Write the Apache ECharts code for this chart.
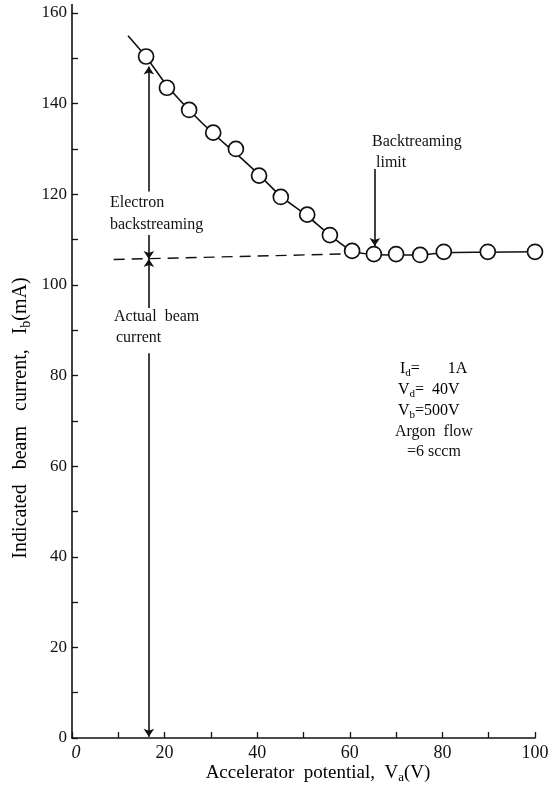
<!DOCTYPE html>
<html><head><meta charset="utf-8">
<script src="https://cdn.jsdelivr.net/npm/echarts@6/dist/echarts.min.js"></script>
<style>html,body{margin:0;padding:0;background:#fff}#c{width:556px;height:793px}</style>
</head><body><div id="c"></div>
<script>
// measured points
const potential = [16.0, 20.5, 25.3, 30.5, 35.4, 40.4, 45.1, 50.8, 55.7, 60.5, 65.2, 70.0, 75.2, 80.3, 89.8, 100.0];
const beamCurrent = [150.4, 143.5, 138.6, 133.6, 130.0, 124.1, 119.4, 115.5, 111.0, 107.5, 106.8, 106.8, 106.6, 107.3, 107.3, 107.3];
// drawn trend curve
const fitX = [12.1, 16.0, 20.5, 25.3, 30.5, 35.4, 40.4, 45.1, 50.8, 55.7, 60.5, 65.2, 70.0, 75.2, 80.3, 89.8, 100.0];
const fitY = [155.0, 150.3, 144.0, 138.6, 133.4, 129.0, 124.3, 119.6, 115.2, 111.0, 107.5, 106.7, 106.6, 106.6, 107.1, 107.2, 107.3];
// actual beam current (dashed)
const dashX = [9.0, 62.0];
const dashY = [105.6, 106.9];
// annotation arrows [x1,y1,x2,y2] (arrow at 2nd point)
const arrowX = 16.6;
const arrows = [
  [arrowX, 120.6, arrowX, 148.2],
  [arrowX, 111.0, arrowX, 105.7],
  [arrowX, 94.9, arrowX, 105.7],
  [arrowX, 84.9, arrowX, 0.3],
  [65.4, 125.6, 65.4, 108.6]
];
const xTicks = [0, 20, 40, 60, 80, 100];
const yTicks = [0, 20, 40, 60, 80, 100, 120, 140, 160];

const F = '"Liberation Serif", "DejaVu Serif", serif';
const chart = echarts.init(document.getElementById('c'), null, {renderer: 'canvas'});

const txt = (x, y, text) => ({
  type: 'text', x: x, y: y,
  style: {text: text, font: '16px ' + F, fill: '#111', verticalAlign: 'middle'}
});

const sub = {
  a: {fontFamily: F, fontSize: 16, color: '#111'},
  s: {fontFamily: F, fontSize: 11, color: '#111', verticalAlign: 'bottom', padding: [9, 0, 0, 0]}
};
const subBig = {
  a: {fontFamily: F, fontSize: 19, color: '#111'},
  s: {fontFamily: F, fontSize: 13, color: '#111', verticalAlign: 'bottom', padding: [10, 0, 0, 0]}
};
const subY = {
  a: {fontFamily: F, fontSize: 20, color: '#111'},
  s: {fontFamily: F, fontSize: 14, color: '#111', verticalAlign: 'bottom', padding: [10, 0, 0, 0]}
};

chart.setOption({
  animation: false,
  backgroundColor: '#fff',
  grid: {left: 72, right: 21, top: 13, bottom: 55, containLabel: false},
  xAxis: {
    type: 'value', min: 0, max: 100, interval: 20,
    axisLine: {onZero: false, lineStyle: {color: '#111', width: 1.6}},
    axisTick: {inside: true, length: 6, lineStyle: {color: '#111', width: 1.3}},
    minorTick: {show: true, splitNumber: 2, length: 6, lineStyle: {color: '#111', width: 1.3}},
    splitLine: {show: false},
    axisLabel: {fontFamily: F, fontSize: 18, color: '#111', margin: 6,
      formatter: v => v === 0 ? '{i|0}' : (xTicks.includes(v) ? String(v) : ''),
      rich: {i: {fontFamily: F, fontSize: 18, fontStyle: 'italic', color: '#111', padding: [0, 0, 0, 8]}}}
  },
  yAxis: {
    type: 'value', min: 0, max: 160, interval: 20,
    axisLine: {onZero: false, lineStyle: {color: '#111', width: 1.6}},
    axisTick: {inside: true, length: 6, lineStyle: {color: '#111', width: 1.3}},
    minorTick: {show: true, splitNumber: 2, length: 6, lineStyle: {color: '#111', width: 1.3}},
    splitLine: {show: false},
    axisLabel: {fontFamily: F, fontSize: 17, color: '#111', margin: 5,
      formatter: v => yTicks.includes(v) ? String(v) : ''}
  },
  series: [
    {type: 'line', data: fitX.map((x, i) => [x, fitY[i]]), symbol: 'none', smooth: 0.3,
      lineStyle: {color: '#111', width: 1.6}, z: 2},
    {type: 'line', data: dashX.map((x, i) => [x, dashY[i]]), symbol: 'none',
      lineStyle: {color: '#111', width: 1.4, type: [11, 7]}, z: 2},
    {type: 'lines', coordinateSystem: 'cartesian2d', polyline: false,
      symbol: ['none', 'arrow'], symbolSize: [0, 8],
      lineStyle: {color: '#111', width: 1.6, opacity: 1},
      data: arrows.map(a => ({coords: [[a[0], a[1]], [a[2], a[3]]]})), z: 3},
    {type: 'scatter', data: potential.map((x, i) => [x, beamCurrent[i]]), symbol: 'circle', symbolSize: 15,
      itemStyle: {color: '#fff', borderColor: '#111', borderWidth: 1.7, opacity: 1}, z: 5, clip: false}
  ],
  graphic: [
    {type: 'line', shape: {x1: 72, y1: 4, x2: 72, y2: 13}, style: {stroke: '#111', lineWidth: 1.6}},
    txt(110, 203, 'Electron'),
    txt(110, 225, 'backstreaming'),
    txt(114, 317, 'Actual  beam'),
    txt(116, 338, 'current'),
    txt(372, 142, 'Backtreaming'),
    txt(376, 163, 'limit'),
    {type: 'text', x: 400, y: 369, style: {text: '{a|I}{s|d}{a|=       1A}', rich: sub, verticalAlign: 'middle'}},
    {type: 'text', x: 398, y: 390, style: {text: '{a|V}{s|d}{a|=  40V}', rich: sub, verticalAlign: 'middle'}},
    {type: 'text', x: 398, y: 411, style: {text: '{a|V}{s|b}{a|=500V}', rich: sub, verticalAlign: 'middle'}},
    txt(395, 432, 'Argon  flow'),
    txt(407, 452, '=6 sccm'),
    {type: 'text', x: 318, y: 773, style: {
      text: '{a|Accelerator  potential,  V}{s|a}{a|(V)}', rich: subBig,
      align: 'center', verticalAlign: 'middle'}},
    {type: 'text', x: 21, y: 418, rotation: Math.PI / 2, style: {
      text: '{a|Indicated   beam   current,   I}{s|b}{a|(mA)}', rich: subY,
      align: 'center', verticalAlign: 'middle'}}
  ]
});
</script></body></html>
